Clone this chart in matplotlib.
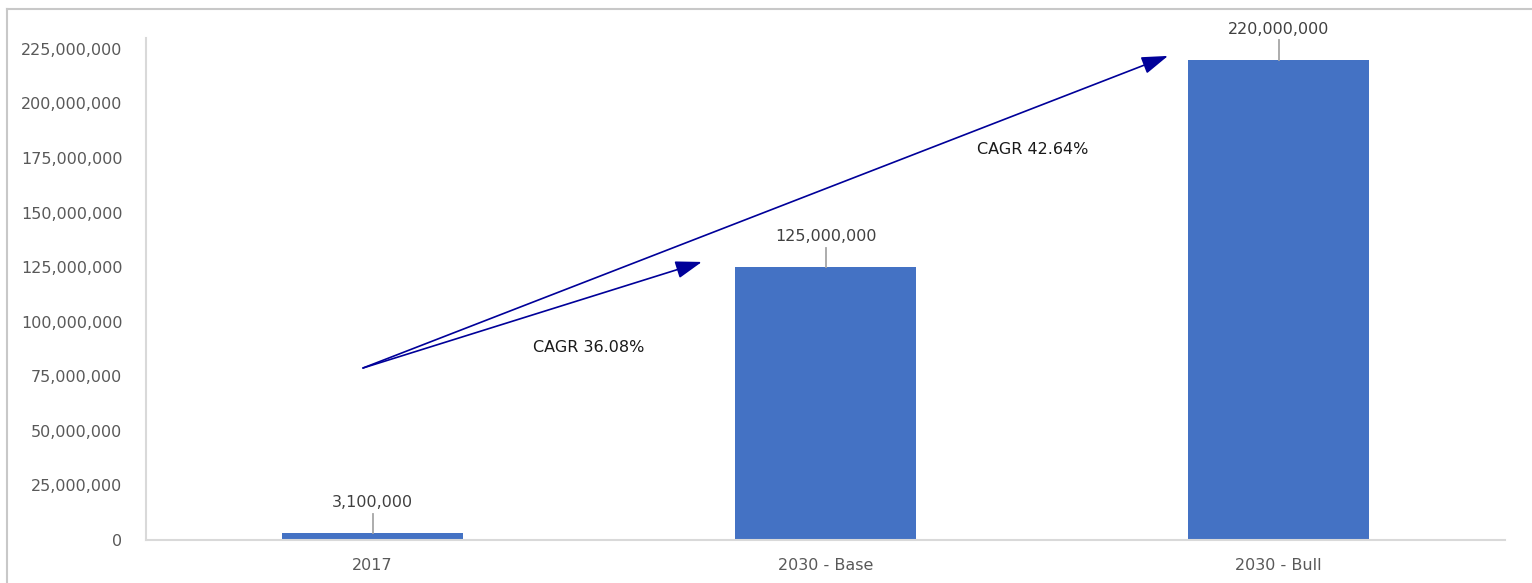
import matplotlib.pyplot as plt
from matplotlib.lines import Line2D
from matplotlib.ticker import FuncFormatter

categories = ['2017', '2030 - Base', '2030 - Bull']
users = [3100000, 125000000, 220000000]
cagr_labels = ['CAGR 36.08%', 'CAGR 42.64%']

plt.rcParams['font.family'] = 'DejaVu Sans'

fig = plt.figure(figsize=(15.32, 5.83), dpi=100)
ax = fig.add_axes([0.0953, 0.0738, 0.8871, 0.861])

x = list(range(len(categories)))
ax.bar(x, users, width=0.4, color='#4472C4', zorder=2)

ax.set_xlim(-0.5, 2.5)
ax.set_ylim(0, 230000000)
ax.set_yticks(range(0, 225000001, 25000000))
ax.yaxis.set_major_formatter(FuncFormatter(lambda v, p: f'{int(v):,}'))
ax.set_xticks(x)
ax.set_xticklabels(categories)
ax.tick_params(axis='both', length=0, labelsize=11.5, colors='#595959')
ax.tick_params(axis='y', pad=17)
ax.tick_params(axis='x', pad=13)

for side in ['top', 'right']:
    ax.spines[side].set_visible(False)
ax.spines['left'].set_color('#d9d9d9')
ax.spines['bottom'].set_color('#d9d9d9')
ax.spines['left'].set_linewidth(1.5)
ax.spines['bottom'].set_linewidth(1.5)

# data labels with short leader lines
for xi, v in zip(x, users):
    ax.plot([xi, xi], [v, v + 9e6], color='#a6a6a6', lw=1.3, zorder=3)
    ax.text(xi, v + 10.6e6, f'{v:,}', ha='center', va='bottom',
            fontsize=11.5, color='#404040')

# growth arrows from 2017
start = (-0.021, 78.8e6)
head = '-|>,head_length=0.9,head_width=0.3'
ax.annotate('', xy=(0.727, 127.4e6), xytext=start,
            arrowprops=dict(arrowstyle=head, color='#000099', lw=1.2,
                            mutation_scale=18, shrinkA=0, shrinkB=0))
ax.annotate('', xy=(1.756, 221.8e6), xytext=start,
            arrowprops=dict(arrowstyle=head, color='#000099', lw=1.2,
                            mutation_scale=18, shrinkA=0, shrinkB=0))
ax.text(0.478, 88e6, cagr_labels[0], ha='center', va='center',
        fontsize=11.5, color='#1a1a1a')
ax.text(1.458, 178.7e6, cagr_labels[1], ha='center', va='center',
        fontsize=11.5, color='#1a1a1a')

# outer chart frame (top and left edges)
fig.add_artist(Line2D([7 / 1532, 1.0], [1 - 9 / 583, 1 - 9 / 583],
                      transform=fig.transFigure, color='#c8c8c8', lw=1.5))
fig.add_artist(Line2D([7 / 1532, 7 / 1532], [0.0, 1 - 9 / 583],
                      transform=fig.transFigure, color='#c8c8c8', lw=1.5))

fig.savefig('out.png', dpi=100)
